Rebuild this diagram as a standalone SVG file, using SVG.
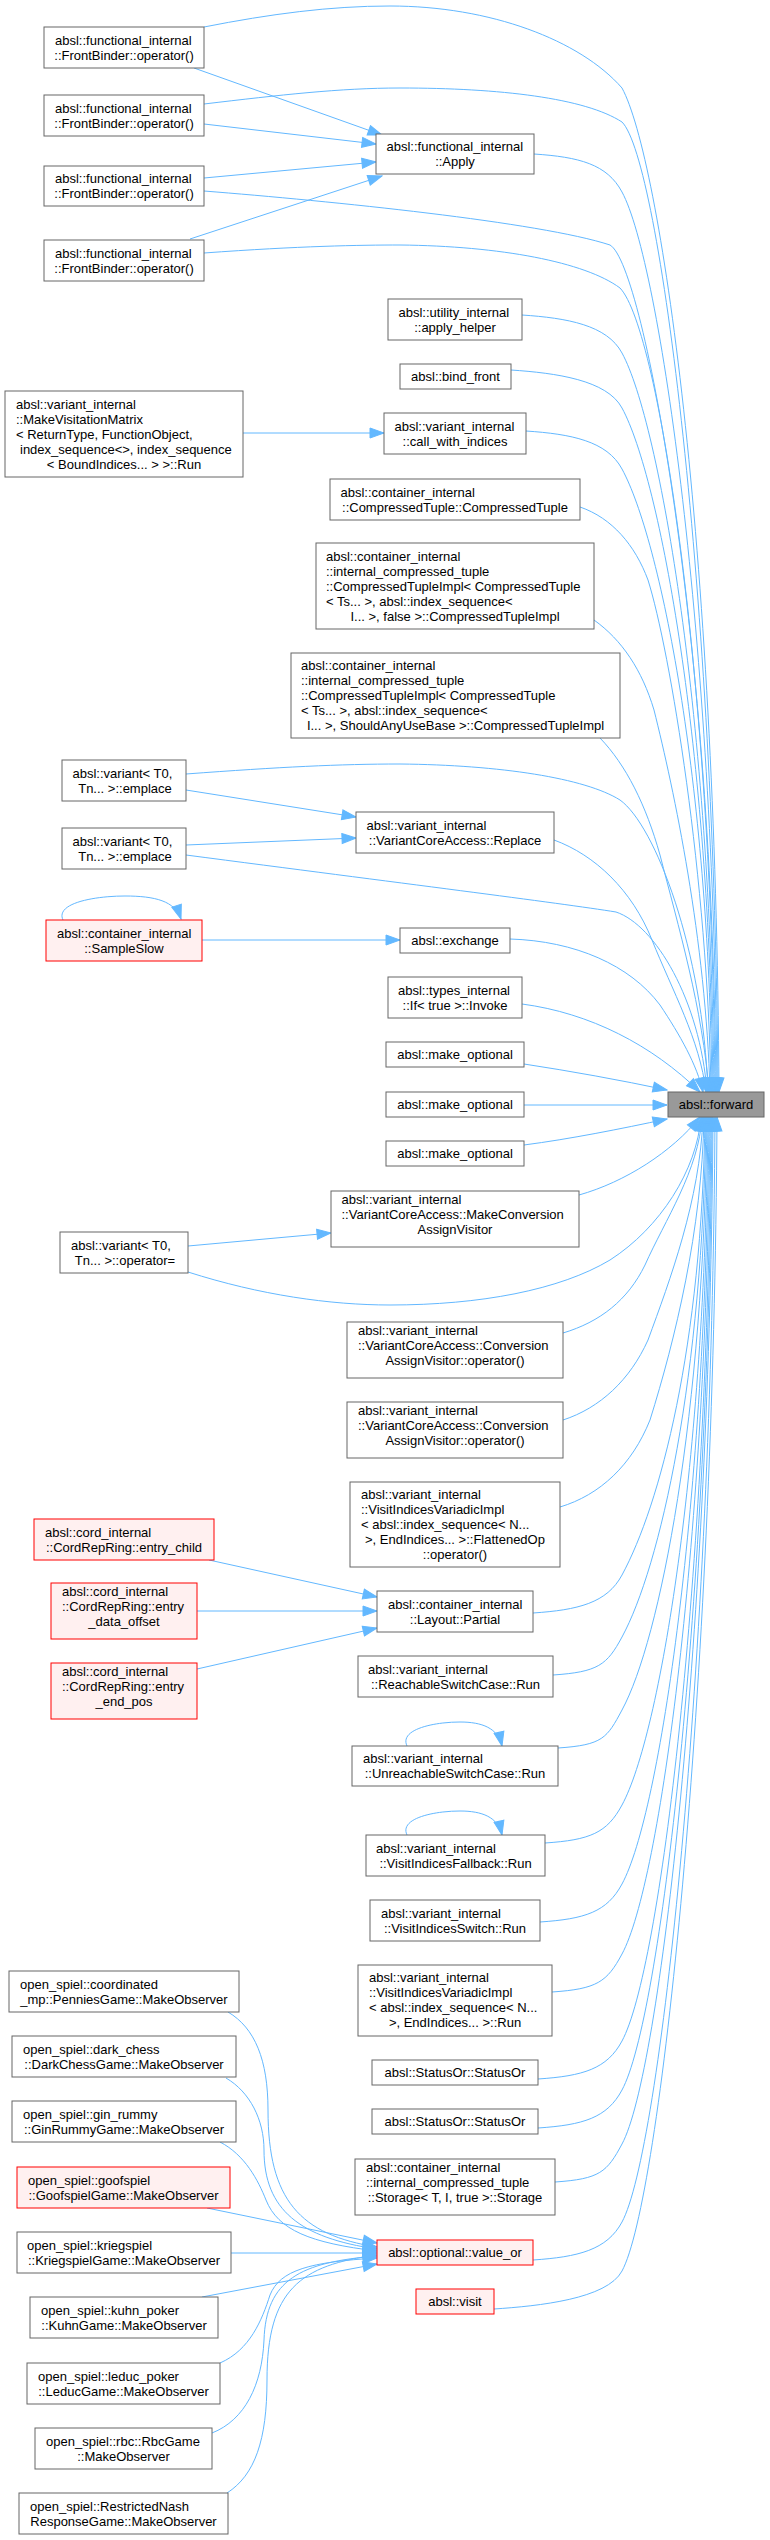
<svg xmlns="http://www.w3.org/2000/svg" width="770" height="2540" viewBox="0 0 770 2540">
<style>
.node rect{fill:#ffffff;stroke:#666666;stroke-width:1}
.red rect{fill:#fff0f0;stroke:#ff0000;stroke-width:1}
.cur rect{fill:#999999;stroke:#666666;stroke-width:1}
text{font-family:"Liberation Sans",Arial,sans-serif;font-size:13px;fill:#000000}
.m{text-anchor:middle}
#edges path{fill:none;stroke:#63b8ff;stroke-width:1;marker-end:url(#arr)}
</style>
<defs>
<marker id="arr" markerUnits="userSpaceOnUse" markerWidth="16" markerHeight="12" viewBox="0 0 16 12" refX="15" refY="6" orient="auto">
<path d="M1,1 L15,6 L1,11 Z" fill="#63b8ff" stroke="#63b8ff"/>
</marker>
</defs>
<rect x="0" y="0" width="770" height="2540" fill="#ffffff"/>
<g id="edges">
<path d="M194,68 L382,135"/>
<path d="M204,124 L376,144"/>
<path d="M204,178 L376,162"/>
<path d="M190,239 L382,176"/>
<path d="M204,27 C270,14 330,6 390,6 C490,6 580,40 622,88 C660,158 716,540 719,1092"/>
<path d="M204,104 C280,95 340,88 400,88 C500,88 585,98 622,122 C660,160 715,600 718,1092"/>
<path d="M534,154 C579,157 607,164 622,192 C660,262 714,642 717,1092"/>
<path d="M204,191 C330,201 540,222 610,245 C645,265 713,650 716,1092"/>
<path d="M204,253 C300,246 360,245 400,245 C500,246 585,262 620,288 C660,330 712,690 715,1092"/>
<path d="M522,315 C567,318 607,325 622,353 C660,423 711,723 714,1092"/>
<path d="M511,370 C556,373 607,380 622,408 C660,478 710,750 713,1092"/>
<path d="M243,433 L384,433"/>
<path d="M526,431 C571,434 607,441 622,469 C660,539 709,781 712,1092"/>
<path d="M580,507 C612,518 635,545 648,580 C670,650 708,880 711,1092"/>
<path d="M594,620 C622,640 642,670 654,710 C674,790 706,940 710,1092"/>
<path d="M600,738 C626,765 646,805 660,855 C678,925 703,1010 709,1092"/>
<path d="M186,774 C280,767 340,764 400,764 C500,765 585,778 620,800 C655,825 703,950 708,1092"/>
<path d="M186,790 L356,817"/>
<path d="M186,845 L356,838"/>
<path d="M186,855 C400,883 560,903 616,912 C655,925 700,1000 707,1092"/>
<path d="M554,840 C595,855 632,890 652,940 C672,990 700,1040 706,1092"/>
<path d="M63,920 C55,903 95,896 125,896 C155,896 175,901 181,919"/>
<path d="M202,940 L400,940"/>
<path d="M510,939 C575,941 630,965 660,1005 C680,1035 697,1065 703,1092"/>
<path d="M522,1004 C590,1013 652,1045 700,1092"/>
<path d="M524,1064 C570,1071 620,1080 667,1090"/>
<path d="M524,1105 L667,1105"/>
<path d="M524,1145 C570,1139 620,1129 667,1119"/>
<path d="M579,1195 C625,1182 672,1152 700,1117"/>
<path d="M188,1246 L331,1233"/>
<path d="M188,1272 C260,1295 330,1305 390,1305 C480,1305 560,1290 610,1260 C660,1228 697,1170 701,1117"/>
<path d="M563,1333 C600,1322 628,1300 645,1265 C665,1220 699,1170 702,1117"/>
<path d="M563,1420 C600,1408 630,1380 648,1340 C670,1280 700,1200 703,1117"/>
<path d="M560,1507 C600,1495 632,1465 650,1420 C675,1340 702,1230 704,1117"/>
<path d="M209,1560 L377,1597"/>
<path d="M197,1611 L377,1611"/>
<path d="M197,1669 L377,1628"/>
<path d="M533,1613 C578,1610 607,1603 622,1575 C660,1505 702,1346 705,1117"/>
<path d="M553,1675 C598,1672 607,1665 622,1637 C660,1567 703,1377 706,1117"/>
<path d="M407,1746 C399,1729 435,1722 460,1722 C482,1722 498,1728 502,1746"/>
<path d="M558,1748 C603,1745 607,1738 622,1710 C660,1640 704,1414 707,1117"/>
<path d="M407,1835 C399,1818 435,1811 460,1811 C482,1811 498,1817 502,1835"/>
<path d="M545,1843 C590,1840 607,1833 622,1805 C660,1735 705,1461 708,1117"/>
<path d="M540,1922 C585,1919 607,1912 622,1884 C660,1814 706,1500 709,1117"/>
<path d="M552,1992 C597,1989 607,1982 622,1954 C660,1884 707,1536 710,1117"/>
<path d="M538,2079 C583,2076 607,2069 622,2041 C660,1971 708,1579 711,1117"/>
<path d="M538,2128 C583,2125 607,2118 622,2090 C660,2020 709,1604 712,1117"/>
<path d="M555,2182 C600,2179 607,2172 622,2144 C660,2074 710,1631 713,1117"/>
<path d="M533,2260 C578,2257 607,2250 622,2222 C660,2152 712,1670 715,1117"/>
<path d="M494,2309 C539,2306 607,2299 622,2271 C660,2201 714,1694 717,1117"/>
<path d="M228,2012 C255,2028 268,2060 268,2110 C268,2200 300,2235 377,2247"/>
<path d="M226,2078 C250,2092 264,2120 264,2150 C264,2210 300,2238 377,2249"/>
<path d="M220,2142 C245,2155 258,2180 266,2200 C278,2230 310,2243 377,2251"/>
<path d="M207,2208 L377,2243"/>
<path d="M231,2253 L377,2253"/>
<path d="M202,2297 L377,2264"/>
<path d="M220,2363 C250,2350 262,2320 270,2295 C280,2270 310,2262 377,2258"/>
<path d="M212,2433 C245,2420 262,2385 264,2340 C266,2280 300,2262 377,2256"/>
<path d="M227,2493 C255,2475 267,2440 267,2380 C267,2290 300,2265 377,2255"/>
</g>
<g id="fb1" class="node"><rect x="44" y="27" width="160" height="41"/><text x="55" y="44.5">absl::functional_internal</text><text class="m" x="124" y="59.5">::FrontBinder::operator()</text></g>
<g id="fb2" class="node"><rect x="44" y="95" width="160" height="41"/><text x="55" y="112.5">absl::functional_internal</text><text class="m" x="124" y="127.5">::FrontBinder::operator()</text></g>
<g id="fb3" class="node"><rect x="44" y="166" width="160" height="40"/><text x="55" y="183">absl::functional_internal</text><text class="m" x="124" y="198">::FrontBinder::operator()</text></g>
<g id="fb4" class="node"><rect x="44" y="240" width="160" height="41"/><text x="55" y="257.5">absl::functional_internal</text><text class="m" x="124" y="272.5">::FrontBinder::operator()</text></g>
<g id="apply" class="node"><rect x="376" y="134" width="158" height="40"/><text x="386.5" y="151">absl::functional_internal</text><text class="m" x="455" y="166">::Apply</text></g>
<g id="apply_helper" class="node"><rect x="388" y="299" width="134" height="41"/><text x="398.5" y="316.5">absl::utility_internal</text><text class="m" x="455" y="331.5">::apply_helper</text></g>
<g id="bind_front" class="node"><rect x="400" y="364" width="111" height="25"/><text class="m" x="455.5" y="381">absl::bind_front</text></g>
<g id="call_with_indices" class="node"><rect x="384" y="413" width="142" height="41"/><text x="394.5" y="430.5">absl::variant_internal</text><text class="m" x="455" y="445.5">::call_with_indices</text></g>
<g id="make_visitation_matrix" class="node"><rect x="5" y="391" width="238" height="86"/><text x="16" y="408.5">absl::variant_internal</text><text x="16" y="423.5">::MakeVisitationMatrix</text><text x="16" y="438.5">&lt; ReturnType, FunctionObject,</text><text x="20" y="453.5">index_sequence&lt;&gt;, index_sequence</text><text class="m" x="124" y="468.5">&lt; BoundIndices... &gt; &gt;::Run</text></g>
<g id="compressed_tuple" class="node"><rect x="330" y="479" width="250" height="41"/><text x="340.5" y="496.5">absl::container_internal</text><text class="m" x="455" y="511.5">::CompressedTuple::CompressedTuple</text></g>
<g id="cti_false" class="node"><rect x="316" y="543" width="278" height="86"/><text x="326" y="560.5">absl::container_internal</text><text x="326" y="575.5">::internal_compressed_tuple</text><text x="326" y="590.5">::CompressedTupleImpl&lt; CompressedTuple</text><text x="326" y="605.5">&lt; Ts... &gt;, absl::index_sequence&lt;</text><text class="m" x="455" y="620.5">I... &gt;, false &gt;::CompressedTupleImpl</text></g>
<g id="cti_base" class="node"><rect x="291" y="653" width="329" height="85"/><text x="301" y="670">absl::container_internal</text><text x="301" y="685">::internal_compressed_tuple</text><text x="301" y="700">::CompressedTupleImpl&lt; CompressedTuple</text><text x="301" y="715">&lt; Ts... &gt;, absl::index_sequence&lt;</text><text class="m" x="455.5" y="730">I... &gt;, ShouldAnyUseBase &gt;::CompressedTupleImpl</text></g>
<g id="emplace1" class="node"><rect x="62" y="760" width="124" height="41"/><text x="72.5" y="777.5">absl::variant&lt; T0,</text><text class="m" x="125" y="792.5">Tn... &gt;::emplace</text></g>
<g id="emplace2" class="node"><rect x="62" y="828" width="124" height="41"/><text x="72.5" y="845.5">absl::variant&lt; T0,</text><text class="m" x="125" y="860.5">Tn... &gt;::emplace</text></g>
<g id="replace" class="node"><rect x="356" y="812" width="198" height="41"/><text x="366.5" y="829.5">absl::variant_internal</text><text class="m" x="455" y="844.5">::VariantCoreAccess::Replace</text></g>
<g id="sample_slow" class="red"><rect x="46" y="920" width="156" height="41"/><text x="57" y="937.5">absl::container_internal</text><text class="m" x="124" y="952.5">::SampleSlow</text></g>
<g id="exchange" class="node"><rect x="400" y="928" width="110" height="25"/><text class="m" x="455" y="945">absl::exchange</text></g>
<g id="if_invoke" class="node"><rect x="388" y="977" width="134" height="41"/><text x="398" y="994.5">absl::types_internal</text><text class="m" x="455" y="1009.5">::If&lt; true &gt;::Invoke</text></g>
<g id="make_optional1" class="node"><rect x="386" y="1042" width="138" height="25"/><text class="m" x="455" y="1059">absl::make_optional</text></g>
<g id="make_optional2" class="node"><rect x="386" y="1092" width="138" height="25"/><text class="m" x="455" y="1109">absl::make_optional</text></g>
<g id="make_optional3" class="node"><rect x="386" y="1141" width="138" height="25"/><text class="m" x="455" y="1158">absl::make_optional</text></g>
<g id="forward" class="cur"><rect x="668" y="1092" width="96" height="25"/><text class="m" x="716" y="1109">absl::forward</text></g>
<g id="make_conversion" class="node"><rect x="331" y="1191" width="248" height="56"/><text x="341.5" y="1204">absl::variant_internal</text><text x="341.5" y="1219">::VariantCoreAccess::MakeConversion</text><text class="m" x="455" y="1234">AssignVisitor</text></g>
<g id="variant_opeq" class="node"><rect x="60" y="1232" width="128" height="41"/><text x="71" y="1249.5">absl::variant&lt; T0,</text><text class="m" x="125" y="1264.5">Tn... &gt;::operator=</text></g>
<g id="conv_visitor1" class="node"><rect x="347" y="1322" width="216" height="56"/><text x="358" y="1335">absl::variant_internal</text><text x="358" y="1350">::VariantCoreAccess::Conversion</text><text class="m" x="455" y="1365">AssignVisitor::operator()</text></g>
<g id="conv_visitor2" class="node"><rect x="347" y="1402" width="216" height="56"/><text x="358" y="1415">absl::variant_internal</text><text x="358" y="1430">::VariantCoreAccess::Conversion</text><text class="m" x="455" y="1445">AssignVisitor::operator()</text></g>
<g id="flattened_op" class="node"><rect x="350" y="1482" width="210" height="85"/><text x="361" y="1499">absl::variant_internal</text><text x="361" y="1514">::VisitIndicesVariadicImpl</text><text x="361" y="1529">&lt; absl::index_sequence&lt; N...</text><text x="365" y="1544">&gt;, EndIndices... &gt;::FlattenedOp</text><text class="m" x="455" y="1559">::operator()</text></g>
<g id="entry_child" class="red"><rect x="34" y="1519" width="180" height="41"/><text x="45" y="1536.5">absl::cord_internal</text><text class="m" x="124" y="1551.5">::CordRepRing::entry_child</text></g>
<g id="entry_data_offset" class="red"><rect x="51" y="1583" width="146" height="56"/><text x="62" y="1596">absl::cord_internal</text><text x="62" y="1611">::CordRepRing::entry</text><text class="m" x="124" y="1626">_data_offset</text></g>
<g id="entry_end_pos" class="red"><rect x="51" y="1663" width="146" height="56"/><text x="62" y="1676">absl::cord_internal</text><text x="62" y="1691">::CordRepRing::entry</text><text class="m" x="124" y="1706">_end_pos</text></g>
<g id="layout_partial" class="node"><rect x="377" y="1591" width="156" height="41"/><text x="388" y="1608.5">absl::container_internal</text><text class="m" x="455" y="1623.5">::Layout::Partial</text></g>
<g id="reachable" class="node"><rect x="358" y="1656" width="195" height="41"/><text x="368" y="1673.5">absl::variant_internal</text><text class="m" x="455.5" y="1688.5">::ReachableSwitchCase::Run</text></g>
<g id="unreachable" class="node"><rect x="352" y="1746" width="206" height="40"/><text x="363" y="1763">absl::variant_internal</text><text class="m" x="455" y="1778">::UnreachableSwitchCase::Run</text></g>
<g id="fallback" class="node"><rect x="366" y="1835" width="179" height="41"/><text x="376" y="1852.5">absl::variant_internal</text><text class="m" x="455.5" y="1867.5">::VisitIndicesFallback::Run</text></g>
<g id="indices_switch" class="node"><rect x="370" y="1900" width="170" height="41"/><text x="381" y="1917.5">absl::variant_internal</text><text class="m" x="455" y="1932.5">::VisitIndicesSwitch::Run</text></g>
<g id="variadic_run" class="node"><rect x="358" y="1965" width="194" height="71"/><text x="369" y="1982">absl::variant_internal</text><text x="369" y="1997">::VisitIndicesVariadicImpl</text><text x="369" y="2012">&lt; absl::index_sequence&lt; N...</text><text class="m" x="455" y="2027">&gt;, EndIndices... &gt;::Run</text></g>
<g id="statusor1" class="node"><rect x="372" y="2060" width="166" height="25"/><text class="m" x="455" y="2077">absl::StatusOr::StatusOr</text></g>
<g id="statusor2" class="node"><rect x="372" y="2109" width="166" height="25"/><text class="m" x="455" y="2126">absl::StatusOr::StatusOr</text></g>
<g id="storage" class="node"><rect x="355" y="2159" width="200" height="56"/><text x="366" y="2172">absl::container_internal</text><text x="366" y="2187">::internal_compressed_tuple</text><text class="m" x="455" y="2202">::Storage&lt; T, I, true &gt;::Storage</text></g>
<g id="value_or" class="red"><rect x="377" y="2240" width="156" height="25"/><text class="m" x="455" y="2257">absl::optional::value_or</text></g>
<g id="visit" class="red"><rect x="416" y="2289" width="78" height="25"/><text class="m" x="455" y="2306">absl::visit</text></g>
<g id="pennies" class="node"><rect x="9" y="1971" width="230" height="41"/><text x="20" y="1988.5">open_spiel::coordinated</text><text class="m" x="124" y="2003.5">_mp::PenniesGame::MakeObserver</text></g>
<g id="dark_chess" class="node"><rect x="12" y="2036" width="224" height="41"/><text x="23" y="2053.5">open_spiel::dark_chess</text><text class="m" x="124" y="2068.5">::DarkChessGame::MakeObserver</text></g>
<g id="gin_rummy" class="node"><rect x="12" y="2101" width="224" height="41"/><text x="23" y="2118.5">open_spiel::gin_rummy</text><text class="m" x="124" y="2133.5">::GinRummyGame::MakeObserver</text></g>
<g id="goofspiel" class="red"><rect x="17" y="2167" width="213" height="41"/><text x="28" y="2184.5">open_spiel::goofspiel</text><text class="m" x="123.5" y="2199.5">::GoofspielGame::MakeObserver</text></g>
<g id="kriegspiel" class="node"><rect x="17" y="2232" width="214" height="41"/><text x="27" y="2249.5">open_spiel::kriegspiel</text><text class="m" x="124" y="2264.5">::KriegspielGame::MakeObserver</text></g>
<g id="kuhn" class="node"><rect x="30" y="2297" width="188" height="41"/><text x="41" y="2314.5">open_spiel::kuhn_poker</text><text class="m" x="124" y="2329.5">::KuhnGame::MakeObserver</text></g>
<g id="leduc" class="node"><rect x="27" y="2363" width="193" height="41"/><text x="38" y="2380.5">open_spiel::leduc_poker</text><text class="m" x="123.5" y="2395.5">::LeducGame::MakeObserver</text></g>
<g id="rbc" class="node"><rect x="35" y="2428" width="177" height="41"/><text x="46" y="2445.5">open_spiel::rbc::RbcGame</text><text class="m" x="123.5" y="2460.5">::MakeObserver</text></g>
<g id="restricted_nash" class="node"><rect x="19" y="2493" width="209" height="41"/><text x="30" y="2510.5">open_spiel::RestrictedNash</text><text class="m" x="123.5" y="2525.5">ResponseGame::MakeObserver</text></g>
</svg>
